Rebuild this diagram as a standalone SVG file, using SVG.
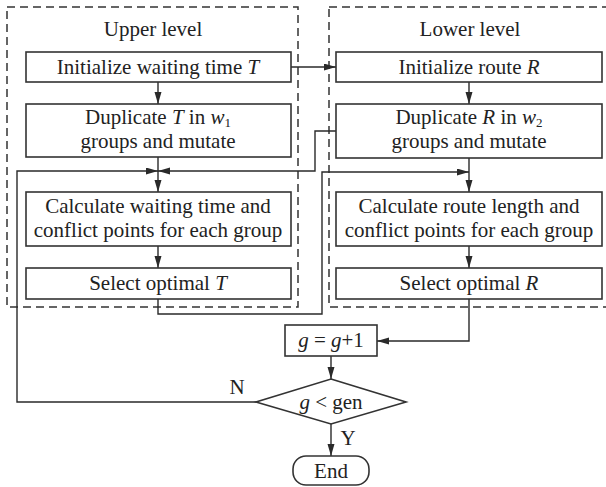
<svg xmlns="http://www.w3.org/2000/svg" width="606" height="487" viewBox="0 0 606 487">
<defs>
<marker id="ah" markerWidth="12" markerHeight="8" refX="12" refY="3.5" orient="auto" markerUnits="userSpaceOnUse">
<path d="M0,0 L12,3.5 L0,7 z" fill="#2a2a2a"/>
</marker>
<style>
.box{fill:#fff;stroke:#333;stroke-width:1.6}
.dash{fill:none;stroke:#333;stroke-width:1.5;stroke-dasharray:8,5}
.t{font-family:"Liberation Serif","Times New Roman",serif;font-size:21px;fill:#222;text-anchor:middle}
.i{font-style:italic}
.c{fill:none;stroke:#2a2a2a;stroke-width:1.4}
.a{marker-end:url(#ah)}
</style>
</defs>
<rect width="606" height="487" fill="#fff"/>
<g id="upper-level">
<rect class="dash" x="7" y="7" width="291" height="300"/>
<text class="t" x="153" y="36">Upper level</text>
</g>
<g id="lower-level">
<rect class="dash" x="329" y="7" width="290" height="300"/>
<text class="t" x="470" y="36">Lower level</text>
</g>
<g id="connectors">
<path class="c a" d="M158,82 V104"/>
<path class="c a" d="M291,67 H336"/>
<path class="c a" d="M469,82 V104"/>
<path class="c a" d="M158,157 V192"/>
<path class="c a" d="M256,402 H17 V171 H158"/>
<path class="c a" d="M336,131 H315 V171 H158"/>
<path class="c a" d="M469,158 V192"/>
<path class="c a" d="M158,299 V314 H322 V172 H469"/>
<path class="c a" d="M158,246 V268"/>
<path class="c a" d="M469,246 V268"/>
<path class="c a" d="M469,299 V341 H377"/>
<path class="c a" d="M331,356 V379"/>
<path class="c a" d="M331,424 V456"/>
</g>
<g id="init-T">
<rect class="box" x="26" y="52" width="265" height="30"/>
<text class="t" x="158" y="74">Initialize waiting time <tspan class="i">T</tspan></text>
</g>
<g id="dup-T">
<rect class="box" x="26" y="104" width="265" height="53"/>
<text class="t" x="158" y="124">Duplicate <tspan class="i">T</tspan> in <tspan class="i">w</tspan><tspan font-size="13" dy="3">1</tspan></text>
<text class="t" x="158" y="148">groups and mutate</text>
</g>
<g id="calc-T">
<rect class="box" x="26" y="192" width="265" height="54"/>
<text class="t" x="158" y="213">Calculate waiting time and</text>
<text class="t" x="158" y="237">conflict points for each group</text>
</g>
<g id="select-T">
<rect class="box" x="26" y="268" width="265" height="31"/>
<text class="t" x="158" y="290">Select optimal <tspan class="i">T</tspan></text>
</g>
<g id="init-R">
<rect class="box" x="336" y="52" width="266" height="30"/>
<text class="t" x="469" y="74">Initialize route <tspan class="i">R</tspan></text>
</g>
<g id="dup-R">
<rect class="box" x="336" y="104" width="266" height="54"/>
<text class="t" x="469" y="124">Duplicate <tspan class="i">R</tspan> in <tspan class="i">w</tspan><tspan font-size="13" dy="3">2</tspan></text>
<text class="t" x="469" y="148">groups and mutate</text>
</g>
<g id="calc-R">
<rect class="box" x="336" y="192" width="266" height="54"/>
<text class="t" x="469" y="213">Calculate route length and</text>
<text class="t" x="469" y="237">conflict points for each group</text>
</g>
<g id="select-R">
<rect class="box" x="336" y="268" width="266" height="31"/>
<text class="t" x="469" y="290">Select optimal <tspan class="i">R</tspan></text>
</g>
<g id="increment">
<rect class="box" x="285" y="325" width="92" height="31"/>
<text class="t" x="331" y="347"><tspan class="i">g</tspan> = <tspan class="i">g</tspan>+1</text>
</g>
<g id="decision">
<polygon class="box" points="331,379 406,402 331,424 256,402"/>
<text class="t" x="331" y="409"><tspan class="i">g</tspan> &lt; gen</text>
<text class="t" x="237" y="394">N</text>
<text class="t" x="348" y="445">Y</text>
</g>
<g id="end">
<rect class="box" x="293" y="456" width="76" height="29" rx="13"/>
<text class="t" x="331" y="478">End</text>
</g>
</svg>
